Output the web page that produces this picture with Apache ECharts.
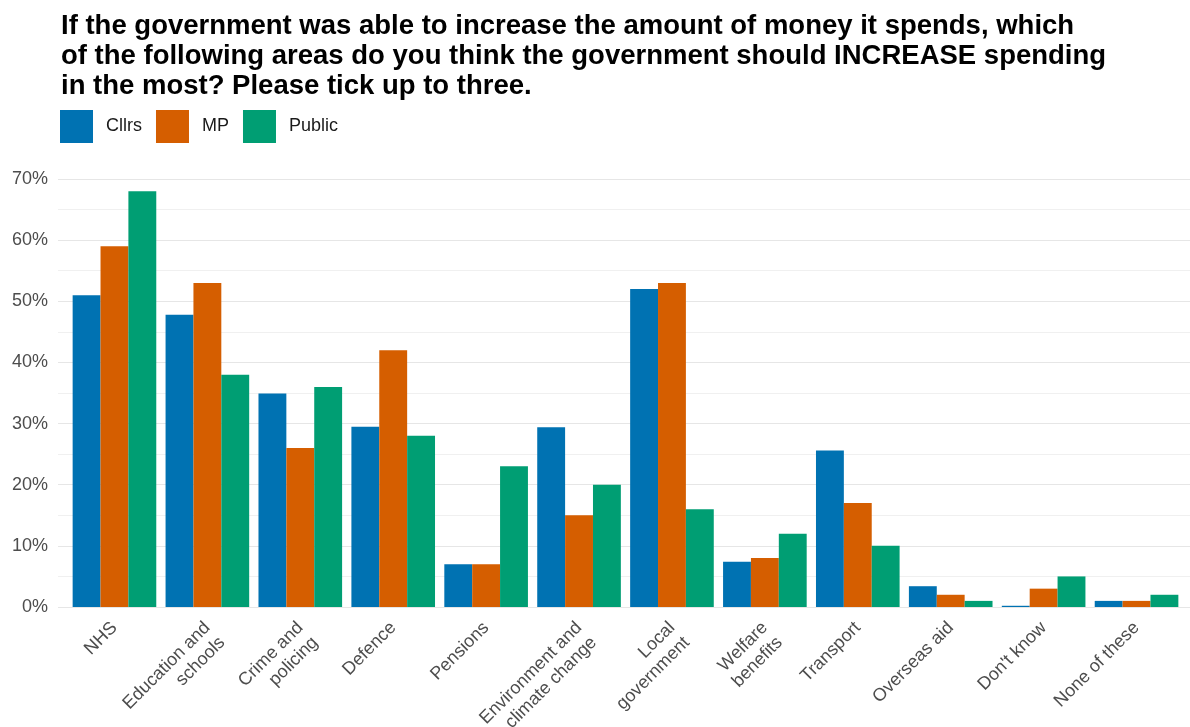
<!DOCTYPE html>
<html><head><meta charset="utf-8">
<script src="https://cdn.jsdelivr.net/npm/echarts@6/dist/echarts.min.js"></script>
<style>html,body{margin:0;padding:0;background:#fff}#c{width:1190px;height:727px}</style>
</head><body><div id="c"></div>
<script>
const categories = ["NHS","Education and\nschools","Crime and\npolicing","Defence","Pensions","Environment and\nclimate change","Local\ngovernment","Welfare\nbenefits","Transport","Overseas aid","Don't know","None of these"];
const cllrs  = [51, 47.8, 34.9, 29.5, 7, 29.4, 52, 7.4, 25.6, 3.4, 0.2, 1];
const mp     = [59, 53, 26, 42, 7, 15, 53, 8, 17, 2, 3, 1];
const publicV= [68, 38, 36, 28, 23, 20, 16, 12, 10, 1, 5, 2];
const yTicks = [0,10,20,30,40,50,60,70];
const titleText = "If the government was able to increase the amount of money it spends, which\nof the following areas do you think the government should INCREASE spending\nin the most? Please tick up to three.";

const font = "'Liberation Sans', Arial, sans-serif";
const LH = 21;
const chart = echarts.init(document.getElementById('c'), null, {renderer:'canvas'});
const mk = (name, data, color) => ({
  name, type:'bar', data, barGap:'0%', barCategoryGap:'10%', xAxisIndex:0, yAxisIndex:0,
  itemStyle:{color}, emphasis:{disabled:true}
});
chart.setOption({
  animation:false,
  textStyle:{fontFamily:font},
  title:{text:titleText, left:56, top:6, textStyle:{fontFamily:font, fontSize:27.5, fontWeight:'bold', color:'#000', lineHeight:30}},
  legend:{left:55, top:105, itemWidth:33, itemHeight:33, itemGap:14, icon:'rect',
    textStyle:{fontFamily:font, fontSize:18, color:'#1a1a1a', padding:[0,0,0,8]},
    data:['Cllrs','MP','Public']},
  grid:[
    {left:68, right:7, top:179, bottom:120, containLabel:false, outerBoundsMode:'none'},
    {left:58, right:0, top:179, bottom:120, containLabel:false, outerBoundsMode:'none'}
  ],
  xAxis:[
    {type:'category', data:categories, gridIndex:0,
     axisLine:{show:false}, axisTick:{show:false},
     axisLabel:{rotate:45, interval:0, margin:18, fontFamily:font, fontSize:18, color:'#4d4d4d', lineHeight:LH,
       formatter: v => v.includes('\n') ? ' \n' + v : v}},
    {type:'value', gridIndex:1, min:0, max:1, show:false}
  ],
  yAxis:[
    {type:'value', gridIndex:0, min:0, max:70, interval:10, show:false, splitLine:{show:false}},
    {type:'value', gridIndex:1, min:0, max:70, interval:10,
     axisLabel:{formatter:v=>yTicks.includes(v)?v+'%':'', fontFamily:font, fontSize:18, color:'#4d4d4d', margin:10},
     axisLine:{show:false}, axisTick:{show:false},
     splitLine:{lineStyle:{color:'#e6e6e6', width:1.2}},
     minorTick:{show:false, splitNumber:2},
     minorSplitLine:{show:true, lineStyle:{color:'#f0f0f0', width:1}}}
  ],
  series:[mk('Cllrs', cllrs, '#0072B2'), mk('MP', mp, '#D55E00'), mk('Public', publicV, '#009E73')]
});
</script></body></html>
